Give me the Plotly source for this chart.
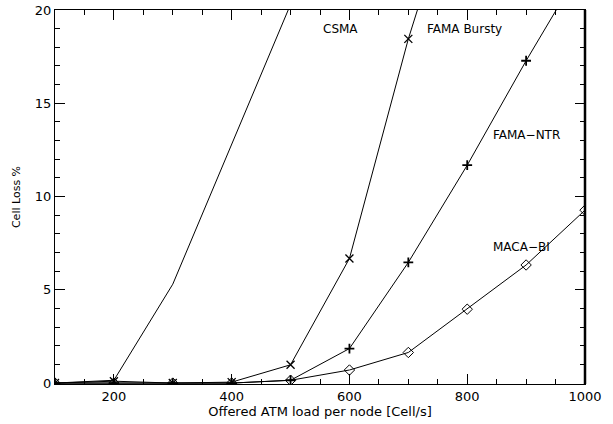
import plotly.graph_objects as go

csma_x = [100, 200, 300, 400, 500]
csma_y = [0.0, 0.15, 5.3, 12.8, 20.3]
bursty_x = [100, 200, 300, 400, 500, 600, 700, 800]
bursty_y = [0.0, 0.1, 0.0, 0.05, 0.98, 6.68, 18.45, 28.5]
ntr_x = [100, 200, 300, 400, 500, 600, 700, 800, 900, 1000]
ntr_y = [0.0, 0.0, 0.0, 0.0, 0.15, 1.85, 6.47, 11.68, 17.28, 22.6]
maca_x = [100, 200, 300, 400, 500, 600, 700, 800, 900, 1000]
maca_y = [0.0, 0.0, 0.0, 0.0, 0.15, 0.7, 1.64, 3.96, 6.33, 9.27]

labels = ["CSMA", "FAMA Bursty", "FAMA\u2212NTR", "MACA\u2212BI"]
label_x = [584, 796, 901, 893]
label_y = [19.0, 19.0, 13.3, 7.3]

xticks = [200, 400, 600, 800, 1000]
yticks = [0, 5, 10, 15, 20]

FONT = "DejaVu Sans"
fig = go.Figure()
line = dict(color="black", width=1)
fig.add_trace(go.Scatter(x=csma_x, y=csma_y, mode="lines", line=line))
fig.add_trace(go.Scatter(x=bursty_x, y=bursty_y, mode="lines+markers", line=line,
                         marker=dict(symbol="x-thin-open", size=8, color="black",
                                     line=dict(width=1.3, color="black"))))
fig.add_trace(go.Scatter(x=ntr_x, y=ntr_y, mode="lines+markers", line=line,
                         marker=dict(symbol="cross-thin-open", size=7, color="black",
                                     line=dict(width=1.8, color="black"))))
fig.add_trace(go.Scatter(x=maca_x, y=maca_y, mode="lines+markers", line=line,
                         marker=dict(symbol="diamond-open", size=8, color="black",
                                     line=dict(width=1, color="black"))))

for t, xx, yy in zip(labels, label_x, label_y):
    fig.add_annotation(x=xx, y=yy, text=t, showarrow=False,
                       font=dict(family=FONT, size=12, color="black"))

fig.add_shape(type="line", xref="paper", yref="paper", x0=1, x1=1, y0=0, y1=1,
              line=dict(color="black", width=2.5))

fig.update_layout(
    width=613, height=424,
    margin=dict(l=55, r=28, t=10, b=40),
    paper_bgcolor="white", plot_bgcolor="white",
    showlegend=False,
    font=dict(family=FONT, size=13, color="black"),
    xaxis=dict(range=[100, 1000], tickvals=xticks, ticks="inside", ticklen=10,
               tickcolor="black", showline=True, linecolor="black", linewidth=1,
               mirror="ticks", showgrid=False, zeroline=False, automargin=False,
               minor=dict(dtick=50, tick0=100, ticks="inside", ticklen=5, tickcolor="black"),
               title=dict(text="Offered ATM load per node [Cell/s]", standoff=2,
                          font=dict(size=13)),
               tickfont=dict(size=13)),
    yaxis=dict(range=[-0.05, 20], tickvals=yticks, ticks="inside", ticklen=10,
               tickcolor="black", showline=True, linecolor="black", linewidth=1,
               mirror="ticks", showgrid=False, zeroline=False, automargin=False,
               minor=dict(dtick=1, tick0=0, ticks="inside", ticklen=5, tickcolor="black"),
               title=dict(text="Cell Loss %", standoff=12, font=dict(size=11)),
               tickfont=dict(size=13)),
)
fig.write_html("out.html")
